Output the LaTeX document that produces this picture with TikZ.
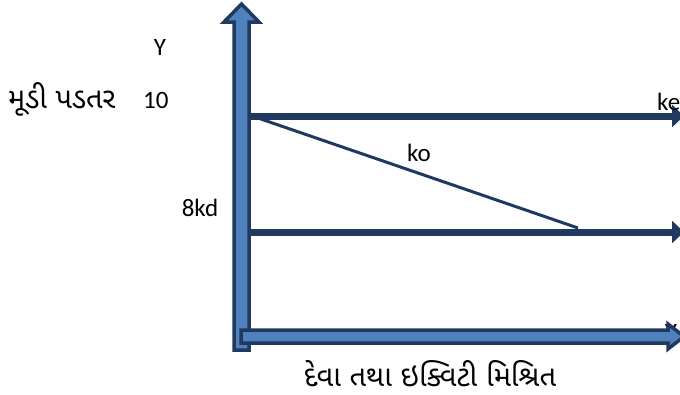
\documentclass[tikz,border=0pt]{standalone}
\usepackage{fontspec}
\setmainfont{Carlito}
\newfontfamily\guj[Script=Gujarati]{Noto Sans Gujarati UI}
\usetikzlibrary{arrows.meta}
\definecolor{axdark}{RGB}{33,57,95}
\definecolor{axlight}{RGB}{79,129,189}
\tikzset{
  blockarrow/.style={fill=axlight, draw=axdark, line width=3.5pt, line join=miter},
  level/.style={draw=axdark, line width=7pt, -{Triangle[length=12pt,width=22pt]}},
  slope/.style={draw=axdark, line width=3pt},
  lab/.style={font=\fontsize{25}{28}\selectfont, inner sep=0pt, text=black},
  glab/.style={font=\guj\fontsize{29}{34}\selectfont, inner sep=0pt, text=black}
}
\begin{document}
\begin{tikzpicture}[x=1pt,y=-1pt]
\useasboundingbox (0,0) rectangle (680,394);
% hidden label behind bottom arrow
\node[lab] (hid) at (671,332) {Y};
% vertical axis
\draw[blockarrow] (234,350) -- (234,22) -- (224,22) -- (241.5,4) -- (259,22) -- (249,22) -- (249,350) -- cycle;
% horizontal axis
\draw[blockarrow] (241,343) -- (241,330) -- (668,330) -- (668,324) -- (684,336.5) -- (668,349) -- (668,343) -- cycle;
% levels
\coordinate (keL) at (251,116);
\coordinate (keR) at (684,116);
\coordinate (kdL) at (251,232);
\coordinate (kdR) at (684,232);
\coordinate (koA) at (255,117);
\coordinate (koB) at (578,228);
\draw[level] (keL) -- (keR);
\draw[level] (kdL) -- (kdR);
\draw[slope] (koA) -- (koB);
% labels
\node[lab] (Y) at (160,47) {Y};
\node[glab, anchor=base west] (md) at (8,108) {મૂડી પડતર};
\node[lab, anchor=base west] (ten) at (143,108) {10};
\node[lab] (ko) at (419,153) {ko};
\node[lab] (kd) at (200,208) {8kd};
\node[lab, anchor=west] (ke) at (657,102) {ke};
\node[glab] (bot) at (430,374) {દેવા તથા ઇક્વિટી મિશ્રિત};
\end{tikzpicture}
\end{document}
